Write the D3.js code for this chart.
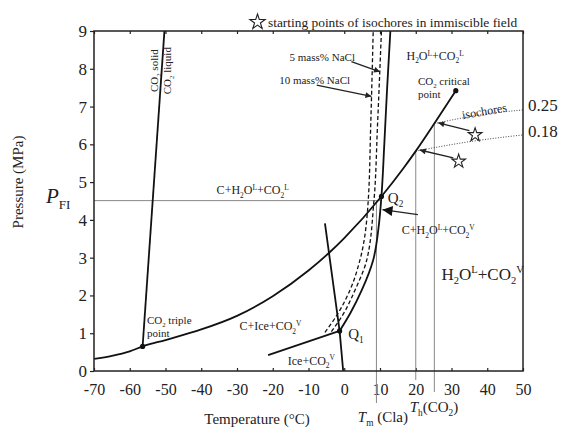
<!DOCTYPE html>
<html>
<head>
<meta charset="utf-8">
<script src="https://cdn.jsdelivr.net/npm/d3@7/dist/d3.min.js"></script>
<style>
  body { margin: 0; background: #fff; }
  svg { display: block; font-family: "Liberation Serif", "Times New Roman", serif; }
</style>
</head>
<body>
<svg id="chart" width="564" height="428"></svg>
<script>
// values: T in °C, P in MPa
const xTicks = [-70, -60, -50, -40, -30, -20, -10, 0, 10, 20, 30, 40, 50];
const yTicks = [0, 1, 2, 3, 4, 5, 6, 7, 8, 9];

// CO2 liquid-vapour (and sublimation below triple point)
const lvT = [-70, -65, -60, -56.4, -50, -40, -30, -20, -10, -4, 0, 10.4, 16.5, 20.0, 25.2, 31.2];
const lvP = [0.32, 0.40, 0.52, 0.65, 0.82, 1.10, 1.46, 1.98, 2.66, 3.15, 3.52, 4.62, 5.36, 5.82, 6.55, 7.42];
// CO2 melting
const meltT = [-56.4, -50.3];
const meltP = [0.65, 9.0];
// clathrate, pure water
const clathT = [-1.3, 1.8, 4.9, 8.1, 9.6, 10.4, 11.2, 12.0, 12.9];
const clathP = [1.06, 1.55, 2.14, 2.94, 3.8, 4.62, 6.0, 7.5, 9.0];
// clathrate, 5 and 10 mass% NaCl
const nacl5T = [-3.6, 0.0, 3.0, 6.3, 8.3, 9.3, 10.4];
const nacl5P = [1.04, 1.55, 2.14, 2.94, 4.5, 6.5, 9.0];
const nacl10T = [-5.4, -1.6, 1.6, 4.4, 6.7, 7.4, 8.1];
const nacl10P = [1.02, 1.55, 2.14, 2.94, 4.5, 6.5, 9.0];
// ice melting and ice + CO2 vapour boundary
const iceT = [-5.4, -1.3, -0.3];
const iceP = [3.91, 1.06, 0];
const iceVapT = [-21.3, -1.3];
const iceVapP = [0.42, 1.06];

const pFI = 4.51;
const tmCla = 9.0;
const thT = [20.0, 25.2];
const thP = [5.82, 6.55];

const iso018T = [20.0, 35, 50];
const iso018P = [5.82, 6.07, 6.25];
const iso025T = [25.2, 38, 50];
const iso025P = [6.55, 6.78, 6.91];

const dotT = [-56.4, -1.3, 10.4, 31.2];
const dotP = [0.65, 1.06, 4.62, 7.42];

const starT = [36.6, 32.0];
const starP = [6.25, 5.55];

const serif = '"Liberation Serif", "Times New Roman", serif';
const svg = d3.select('#chart');
const x = d3.scaleLinear().domain([-70, 50]).range([94, 523]);
const y = d3.scaleLinear().domain([0, 9]).range([371, 31]);

const zip = (a, b) => a.map((v, i) => [v, b[i]]);
const lineX = d3.line().x(d => x(d[0])).y(d => y(d[1])).curve(d3.curveMonotoneX);
const lineY = d3.line().x(d => x(d[0])).y(d => y(d[1])).curve(d3.curveMonotoneY);
const natural = d3.line().x(d => x(d[0])).y(d => y(d[1])).curve(d3.curveNatural);
const straight = d3.line().x(d => x(d[0])).y(d => y(d[1]));

// markers
const defs = svg.append('defs');
defs.append('marker').attr('id', 'arr')
  .attr('viewBox', '0 0 10 10').attr('refX', 10).attr('refY', 5)
  .attr('markerUnits', 'userSpaceOnUse').attr('markerWidth', 8).attr('markerHeight', 6)
  .attr('orient', 'auto')
  .append('path').attr('d', 'M0,0L10,5L0,10z').attr('fill', '#222');
defs.append('marker').attr('id', 'arrBig')
  .attr('viewBox', '0 0 10 10').attr('refX', 10).attr('refY', 5)
  .attr('markerUnits', 'userSpaceOnUse').attr('markerWidth', 11).attr('markerHeight', 10)
  .attr('orient', 'auto')
  .append('path').attr('d', 'M0,0L10,5L0,10z').attr('fill', '#111');

// helper for text with sub/superscripts
function rich(parent, parts, size) {
  const t = parent.append('text').attr('font-size', size).attr('fill', '#222')
    .attr('font-family', serif);
  let off = 0;
  parts.forEach(p => {
    const s = p[0], k = p[1];
    const want = k === 'sub' ? 0.28 * size : k === 'sup' ? -0.38 * size : 0;
    const small = k === 'sub' || k === 'sup';
    t.append('tspan')
      .attr('dy', want - off)
      .attr('font-size', small ? size * 0.62 : size)
      .attr('font-style', k === 'i' ? 'italic' : null)
      .text(s);
    off = want;
  });
  return t;
}

// axes
const plain = d => String(d);
const gx = svg.append('g').attr('transform', `translate(0,${y(0)})`)
  .call(d3.axisBottom(x).tickValues(xTicks).tickFormat(plain)
    .tickSizeInner(-3).tickSizeOuter(0).tickPadding(13));
const gt = svg.append('g').attr('transform', `translate(0,${y(9)})`)
  .call(d3.axisTop(x).tickValues(xTicks).tickSizeInner(-3).tickSizeOuter(0).tickFormat(''));
const gy = svg.append('g').attr('transform', `translate(${x(-70)},0)`)
  .call(d3.axisLeft(y).tickValues(yTicks).tickFormat(plain).tickSize(4).tickPadding(3));
[gx, gt, gy].forEach(g => {
  g.attr('font-family', serif).attr('font-size', null);
  g.select('.domain').remove();
  g.selectAll('line').attr('stroke', '#222').attr('stroke-width', 1.2);
  g.selectAll('text').attr('fill', '#222').attr('font-family', serif);
});
gx.selectAll('text').attr('font-size', 16);
gy.selectAll('text').attr('font-size', 17);

// grey guide lines
const grey = svg.append('g').attr('stroke', '#888').attr('stroke-width', 1).attr('fill', 'none');
grey.append('line').attr('x1', x(-70)).attr('x2', x(10.2)).attr('y1', y(pFI)).attr('y2', y(pFI));
grey.append('line').attr('x1', x(tmCla)).attr('x2', x(tmCla)).attr('y1', y(pFI)).attr('y2', y(0) + 32);
grey.append('line').attr('x1', x(thT[0])).attr('x2', x(thT[0])).attr('y1', y(thP[0])).attr('y2', y(0) + 9);
grey.append('line').attr('x1', x(thT[1])).attr('x2', x(thT[1])).attr('y1', y(thP[1])).attr('y2', y(0) + 21);

// isochores
const iso = svg.append('g').attr('fill', 'none').attr('stroke', '#444')
  .attr('stroke-width', 1).attr('stroke-dasharray', '1,1.6');
iso.append('path').attr('d', natural(zip(iso018T, iso018P)));
iso.append('path').attr('d', natural(zip(iso025T, iso025P)));

// NaCl clathrate curves
const dash = svg.append('g').attr('fill', 'none').attr('stroke', '#111')
  .attr('stroke-width', 1.3).attr('stroke-dasharray', '4,2.5');
dash.append('path').attr('d', lineY(zip(nacl5T, nacl5P)));
dash.append('path').attr('d', lineY(zip(nacl10T, nacl10P)));

// main phase boundaries
const main = svg.append('g').attr('fill', 'none').attr('stroke', '#111').attr('stroke-width', 1.8);
main.append('path').attr('d', lineX(zip(lvT, lvP)));
main.append('path').attr('d', straight(zip(meltT, meltP)));
main.append('path').attr('d', lineY(zip(clathT, clathP)));
main.append('path').attr('d', straight(zip(iceT, iceP)));
main.append('path').attr('d', straight(zip(iceVapT, iceVapP)));

svg.append('g').selectAll('circle').data(zip(dotT, dotP)).join('circle')
  .attr('cx', d => x(d[0])).attr('cy', d => y(d[1])).attr('r', 2.6).attr('fill', '#111');

// frame
svg.append('rect').attr('x', x(-70)).attr('y', y(9))
  .attr('width', x(50) - x(-70)).attr('height', y(0) - y(9))
  .attr('fill', 'none').attr('stroke', '#222').attr('stroke-width', 1.5);

// stars and arrows
const star = d3.symbol().type(d3.symbolStar).size(58);
svg.append('g').selectAll('path').data(zip(starT, starP)).join('path')
  .attr('transform', d => `translate(${x(d[0])},${y(d[1])})`)
  .attr('d', star).attr('fill', 'none').attr('stroke', '#222').attr('stroke-width', 1.1);

const arrows = [
  [[35.0, 6.36], [26.3, 6.57]],
  [[30.5, 5.64], [21.1, 5.85]],
  [[2.0, 8.19], [10.0, 7.92]],
  [[-7.7, 7.57], [7.6, 7.27]]
];
svg.append('g').selectAll('path').data(arrows).join('path')
  .attr('d', straight).attr('stroke', '#222').attr('stroke-width', 1.3)
  .attr('fill', 'none').attr('marker-end', 'url(#arr)');
svg.append('path').attr('d', straight([[20.6, 4.14], [10.7, 4.27]]))
  .attr('stroke', '#222').attr('stroke-width', 1.2).attr('fill', 'none')
  .attr('marker-end', 'url(#arrBig)');

// labels inside the plot
const lab = svg.append('g');
function at(parts, size, T, P) {
  const t = rich(lab, parts, size);
  t.attr('transform', `translate(${x(T)},${y(P)})`);
  return t;
}

at([['C+H'], ['2', 'sub'], ['O'], ['L', 'sup'], ['+CO'], ['2', 'sub'], ['L', 'sup']], 12, -35.7, 4.68);
at([['H'], ['2', 'sub'], ['O'], ['L', 'sup'], ['+CO'], ['2', 'sub'], ['L', 'sup']], 12, 17.4, 8.23);
at([['C+H'], ['2', 'sub'], ['O'], ['L', 'sup'], ['+CO'], ['2', 'sub'], ['V', 'sup']], 12, 16.1, 3.62);
at([['H'], ['2', 'sub'], ['O'], ['L', 'sup'], ['+CO'], ['2', 'sub'], ['V', 'sup']], 17, 27.2, 2.42);
at([['C+Ice+CO'], ['2', 'sub'], ['V', 'sup']], 12, -29.3, 1.08);
at([['Ice+CO'], ['2', 'sub'], ['V', 'sup']], 12, -15.8, 0.16);
at([['CO'], ['2', 'sub'], [' triple']], 11, -55.2, 1.24);
at([['point']], 11, -55.2, 0.89);
at([['CO'], ['2', 'sub'], [' critical']], 11, 20.6, 7.58);
at([['point']], 11, 20.6, 7.23);
at([['5 mass% NaCl']], 11, -15.3, 8.21);
at([['10 mass% NaCl']], 11, -18.2, 7.6);
at([['Q'], ['2', 'sub']], 15, 12.2, 4.46);
at([['Q'], ['1', 'sub']], 15, 1.1, 0.86);

rich(lab, [['isochores']], 12).attr('text-anchor', 'middle')
  .attr('transform', `translate(${x(39.4)},${y(6.77)}) rotate(-10)`);
rich(lab, [['CO'], ['2', 'sub'], [' solid']], 11).attr('text-anchor', 'middle')
  .attr('transform', `translate(${x(-52.0)},${y(7.95)}) rotate(-90)`);
rich(lab, [['CO'], ['2', 'sub'], [' liquid']], 11).attr('text-anchor', 'middle')
  .attr('transform', `translate(${x(-48.6)},${y(7.95)}) rotate(-90)`);

// isochore density labels, right of the frame
at([['0.25']], 17, 51.4, 6.87);
at([['0.18']], 17, 51.4, 6.2);

// below the axis
rich(svg, [['T', 'i'], ['m', 'sub'], [' (Cla)']], 15).attr('transform', `translate(${x(3.8)},422)`);
rich(svg, [['T', 'i'], ['h', 'sub'], ['(CO'], ['2', 'sub'], [')']], 15).attr('transform', `translate(${x(18.3)},412)`);
rich(svg, [['Temperature (°C)']], 15).attr('text-anchor', 'middle').attr('transform', 'translate(257,424)');
rich(svg, [['Pressure (MPa)']], 15).attr('text-anchor', 'middle').attr('transform', 'translate(23,182) rotate(-90)');
rich(svg, [['P', 'i'], ['FI', 'sub']], 21).attr('transform', `translate(46,${y(pFI) + 2})`);

// legend
svg.append('path').attr('transform', 'translate(257.5,22)')
  .attr('d', d3.symbol().type(d3.symbolStar).size(72)).attr('fill', 'none')
  .attr('stroke', '#222').attr('stroke-width', 1.1);
rich(svg, [['starting points of isochores in immiscible field']], 13.4).attr('transform', 'translate(268,27)');
</script>
</body>
</html>
